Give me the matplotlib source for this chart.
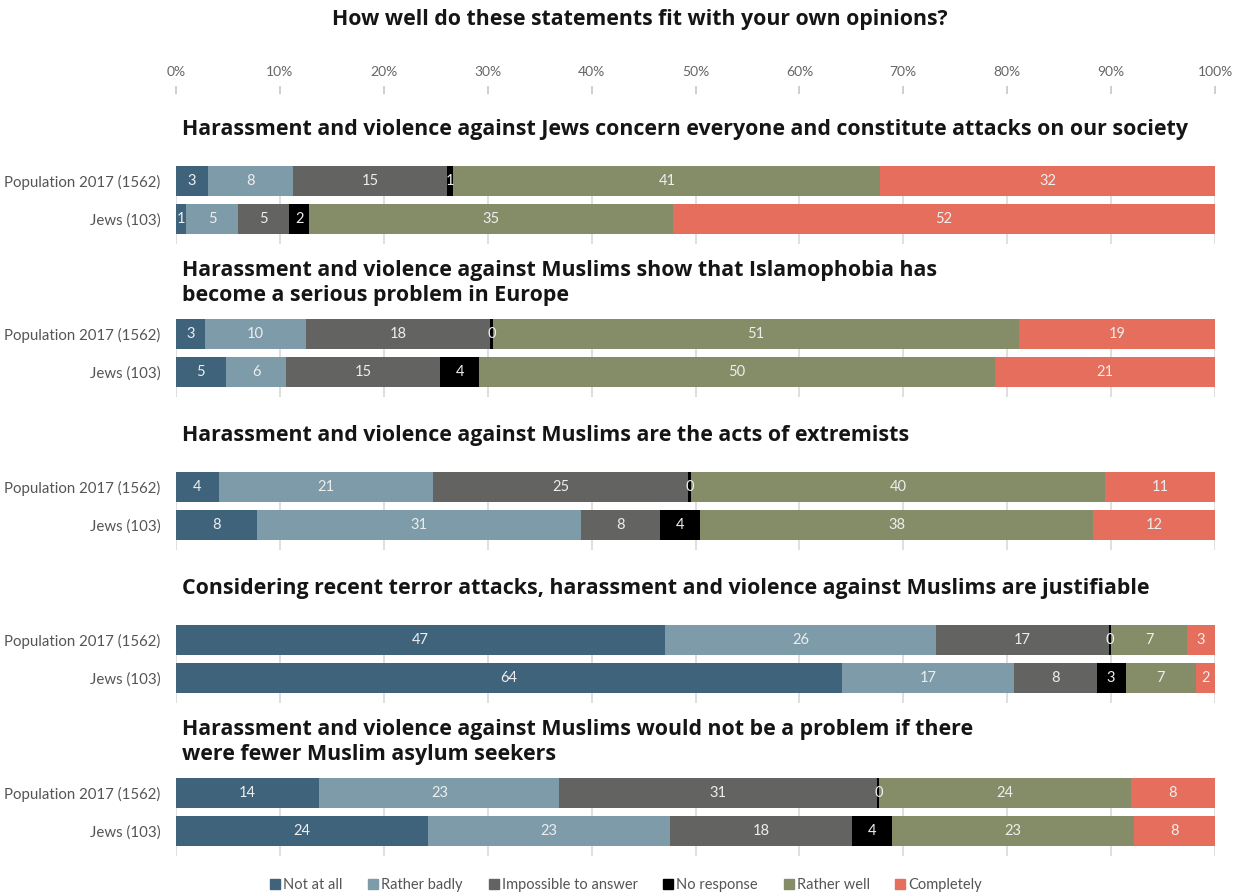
import matplotlib.pyplot as plt
from matplotlib.lines import Line2D

plt.rcParams['font.family'] = ['Lato', 'DejaVu Sans']
title_font = ['Open Sans', 'DejaVu Sans']

# survey answers, share of respondents (%)
statements = [
    "Harassment and violence against Jews concern everyone and constitute attacks on our society",
    "Harassment and violence against Muslims show that Islamophobia has\nbecome a serious problem in Europe",
    "Harassment and violence against Muslims are the acts of extremists",
    "Considering recent terror attacks, harassment and violence against Muslims are justifiable",
    "Harassment and violence against Muslims would not be a problem if there\nwere fewer Muslim asylum seekers",
]
groups = ["Population 2017 (1562)", "Jews (103)"]
answers = ["Not at all", "Rather badly", "Impossible to answer", "No response",
           "Rather well", "Completely"]
colors = ["#3e637b", "#7d9ba8", "#636361", "#000000", "#848d68", "#e56e5c"]

population = [
    [3.1, 8.2, 14.8, 0.6, 41.1, 32.2],
    [2.8, 9.7, 17.7, 0.3, 50.6, 18.9],
    [4.1, 20.6, 24.6, 0.3, 39.8, 10.6],
    [47.1, 26.0, 16.7, 0.2, 7.3, 2.7],
    [13.8, 23.1, 30.6, 0.2, 24.2, 8.1],
]
jews = [
    [1.0, 5.0, 4.9, 1.9, 35.0, 52.2],
    [4.8, 5.8, 14.8, 3.8, 49.6, 21.2],
    [7.8, 31.2, 7.6, 3.8, 37.9, 11.7],
    [64.1, 16.6, 7.9, 2.8, 6.8, 1.8],
    [24.3, 23.2, 17.6, 3.8, 23.3, 7.8],
]

W, H = 1238, 894
fig = plt.figure(figsize=(W / 100, H / 100), dpi=100)
# axes in pixel units vertically so the layout is easy to follow
top_px = 86
ax = fig.add_axes([176 / W, 0, 1039 / W, (H - top_px) / H])
ax.set_facecolor('none')
ax.set_xlim(0, 100)
ax.set_ylim(H, top_px)

first_bar = 181
group_step = 153
row_step = 38
bar_h = 30

yticks, ylabels = [], []
for g, title in enumerate(statements):
    y_pop = first_bar + g * group_step
    ax.text(0.6, y_pop - 51, title, ha='left', va='center', fontsize=15.4,
            fontweight='bold', family=title_font, color='#151515', linespacing=1.28)

    # light gridlines only behind the bar pair
    ax.vlines(range(0, 101, 10), y_pop - bar_h / 2, y_pop + row_step + bar_h / 2 + 10,
              color='#dcdcdc', lw=1.3, zorder=0)

    for r, row in enumerate([population[g], jews[g]]):
        y = y_pop + r * row_step
        yticks.append(y)
        ylabels.append(groups[r])
        left = 0
        for val, col in zip(row, colors):
            ax.barh(y, val, left=left, height=bar_h, color=col, zorder=2)
            ax.text(left + val / 2, y, "{:.0f}".format(val), ha='center', va='center',
                    color='#eeeeee', fontsize=10.5, zorder=3)
            left += val

ax.set_yticks(yticks)
ax.set_yticklabels(ylabels, fontsize=10.8, color='#555555')
ax.tick_params(axis='y', length=0, pad=11)

ax.set_xticks(range(0, 101, 10))
ax.set_xticklabels(["{}%".format(t) for t in range(0, 101, 10)])
ax.xaxis.tick_top()
ax.tick_params(axis='x', direction='in', length=6, width=1.3, color='#cccccc',
               labelsize=10, labelcolor='#666666', pad=6)
for s in ax.spines.values():
    s.set_visible(False)

fig.text(0.517, 1 - 20 / H, "How well do these statements fit with your own opinions?",
         ha='center', va='center', fontsize=15.3, fontweight='bold', family=title_font,
         color='#151515')

handles = [Line2D([], [], marker='s', ls='none', markersize=7, color=c) for c in colors]
fig.legend(handles, answers, loc='center', bbox_to_anchor=(0.506, 1 - 885 / H), ncol=6,
           frameon=False, handlelength=0.6, handletextpad=0.25, columnspacing=1.8,
           fontsize=10.5, labelcolor='#555555', borderaxespad=0)

fig.savefig("out.png", dpi=100)
